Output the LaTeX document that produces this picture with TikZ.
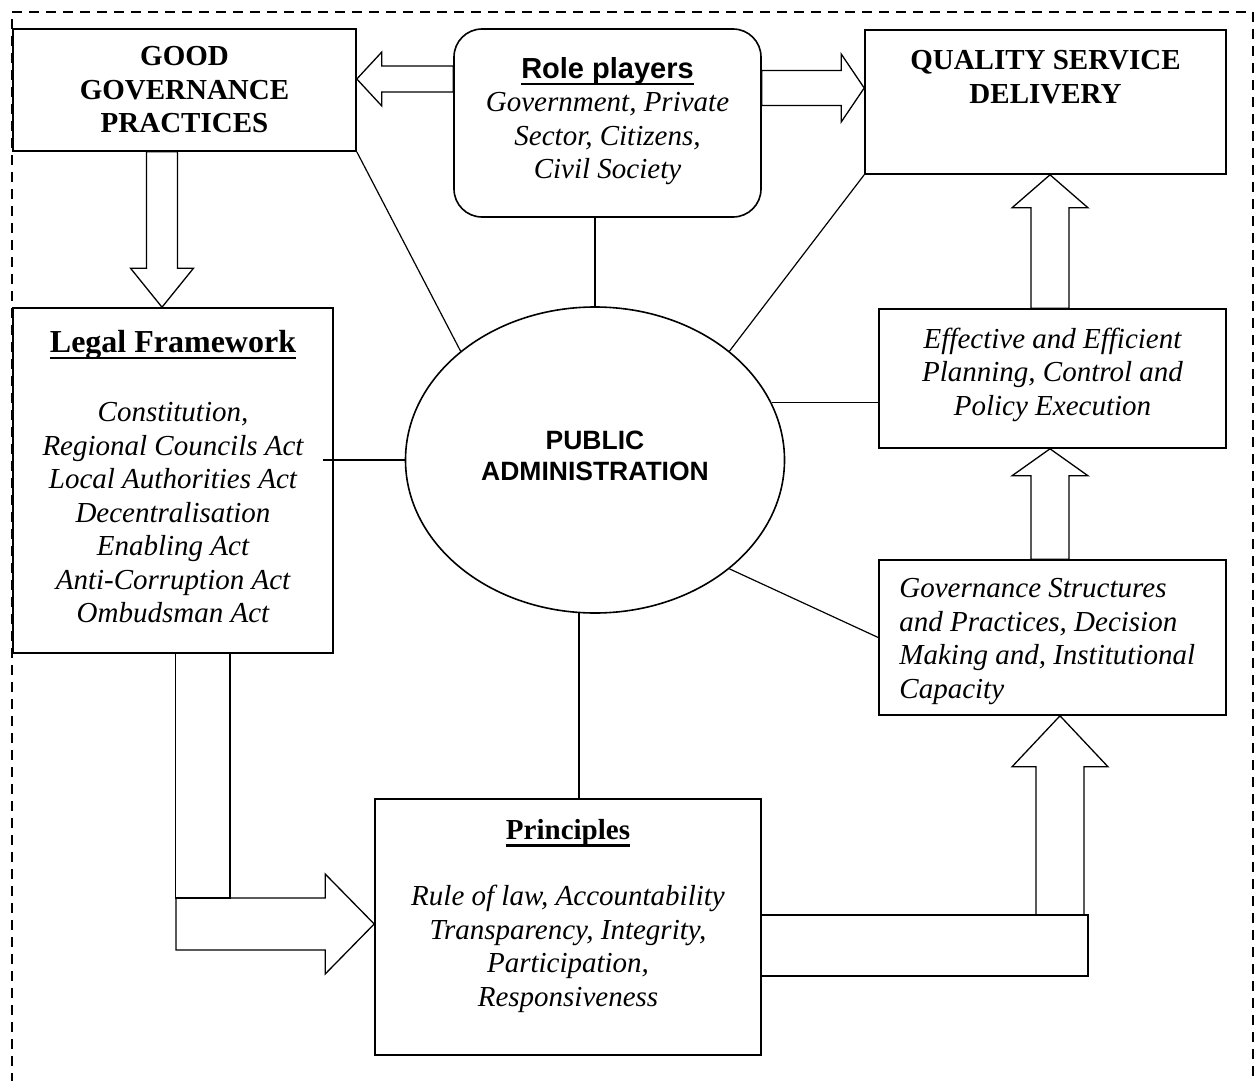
\documentclass[tikz,border=0pt]{standalone}
\usepackage{fontspec}
\setmainfont{Liberation Serif}
\setsansfont{Liberation Sans}
\usetikzlibrary{positioning,calc,shapes.geometric}

\newcommand{\ulhead}[1]{\setbox0\hbox{#1}\rlap{\rule[-0.25em]{\wd0}{0.08em}}\box0}

\tikzset{
  box/.style={draw, rectangle, line width=1.6pt, inner sep=0pt},
  txt/.style={align=center, inner sep=0pt, font=\fontsize{29}{33.5}\selectfont\itshape},
  bold/.style={align=center, inner sep=0pt, font=\fontsize{29}{33.5}\selectfont\bfseries},
  link/.style={line width=1.2pt},
  outerframe/.style={line width=2pt, dash pattern=on 10pt off 7pt},
  shaftw/.store in=\shaftw, headw/.store in=\headw, headl/.store in=\headl,
  fat/.style={draw, line width=1.3pt, line join=miter, to path={
      ($(\tikztostart)!\shaftw!90:(\tikztotarget)$)
   -- ($($(\tikztotarget)!\headl!(\tikztostart)$)!\shaftw!90:(\tikztotarget)$)
   -- ($($(\tikztotarget)!\headl!(\tikztostart)$)!\headw!90:(\tikztotarget)$)
   -- (\tikztotarget)
   -- ($($(\tikztotarget)!\headl!(\tikztostart)$)!\headw!-90:(\tikztotarget)$)
   -- ($($(\tikztotarget)!\headl!(\tikztostart)$)!\shaftw!-90:(\tikztotarget)$)
   -- ($(\tikztostart)!\shaftw!-90:(\tikztotarget)$) -- cycle}},
  fatbox/.style={draw, line width=1.3pt}
}

\begin{document}
\begin{tikzpicture}[x=1pt,y=-1pt,on grid]
\useasboundingbox (0,0) rectangle (1255,1081);
\draw[outerframe] (12,1100) -- (12,12) -- (1253,12) -- (1253,1100);

\node[ellipse, draw, line width=1.6pt, minimum width=379pt, minimum height=306pt] (pa) at (595,460) {};
\node[align=center, inner sep=0pt, font=\fontsize{26.5}{31}\selectfont\sffamily\bfseries] (pa-t)
  at ([yshift=4pt]pa) {PUBLIC\\ADMINISTRATION};

\node[box, minimum width=343pt, minimum height=122pt] (ggp) at (184.5,90) {};
\node[box, rounded corners=28pt, minimum width=307pt, minimum height=188pt] (role) at (607.5,123) {};
\node[box, minimum width=361pt, minimum height=144pt] (qsd) at (1045.5,102) {};
\node[box, minimum width=320pt, minimum height=345pt] (legal) at (173,480.5) {};
\node[box, minimum width=347pt, minimum height=139pt] (eff) at (1052.5,378.5) {};
\node[box, minimum width=347pt, minimum height=155pt] (gov) [below=259pt of eff] {};
\node[box, minimum width=386pt, minimum height=256pt] (prin) at (568,927) {};

\node[bold] (ggp-t) at (ggp) {GOOD\\GOVERNANCE\\PRACTICES};
\node[txt] (role-t) at ([yshift=2pt]role) {\ulhead{\upshape\sffamily\bfseries Role players}\\
  Government, Private\\Sector, Citizens,\\Civil Society};
\node[bold] (qsd-t) at ([yshift=25pt]qsd) {QUALITY SERVICE\\DELIVERY};
\node[txt] (legal-t) at ([yshift=4pt]legal) {\ulhead{\upshape\bfseries\fontsize{32}{33.5}\selectfont Legal Framework}\\[36pt]
  Constitution,\\Regional Councils Act\\Local Authorities Act\\Decentralisation\\Enabling Act\\Anti-Corruption Act\\Ombudsman Act};
\node[txt] (eff-t) at ([yshift=4pt]eff) {Effective and Efficient\\Planning, Control and\\Policy Execution};
\node[txt, align=left, anchor=west] (gov-t) at ([xshift=21pt,yshift=-4pt]gov.west) {Governance Structures\\
  and Practices, Decision\\Making and, Institutional\\Capacity};
\node[txt] (prin-t) at ([yshift=11pt]prin) {\ulhead{\upshape\bfseries Principles}\\[33pt]
  Rule of law, Accountability\\Transparency, Integrity,\\Participation,\\Responsiveness};

\draw[link] (ggp.south east) -- (pa.141);
\draw[link] (pa.north) -- (pa.north |- role.south);
\draw[link] (qsd.south west) -- (pa.39);
\draw[link] ([xshift=-11pt]legal.east |- pa.west) -- (pa.west);
\draw[link] (pa.18) -- (pa.18 -| eff.west);
\draw[link] (pa.321) -- (gov.west);
\draw[link] (pa.264) -- (pa.264 |- prin.north);

\draw[fat, shaftw=13pt, headw=27pt, headl=25pt] ([yshift=44pt]role.west) to ([yshift=11pt]ggp.east);
\draw[fat, shaftw=17.5pt, headw=34pt, headl=23pt] ([yshift=35pt]role.east) to ([yshift=14pt]qsd.west);
\draw[fat, shaftw=15.5pt, headw=31.5pt, headl=39pt] ([xshift=-22.5pt]ggp.south) to ([xshift=-11pt]legal.north);
\draw[fat, shaftw=19pt, headw=38pt, headl=33pt] ([xshift=-2.5pt]eff.north) to ([xshift=4.5pt]qsd.south);
\draw[fat, shaftw=19pt, headw=38pt, headl=27pt] ([xshift=-2.5pt]gov.north) to ([xshift=-2.5pt]eff.south);

\coordinate (lbend) at (176,924);
\draw[fatbox] ([xshift=163pt]legal.south west) rectangle ([xshift=54pt,yshift=26pt]lbend);
\draw[fat, shaftw=26pt, headw=50pt, headl=49pt] (lbend) to (lbend -| prin.west);

\coordinate (rbend) at (1060,915);
\draw[fatbox] ([yshift=12pt]prin.east) rectangle ([xshift=28pt,yshift=-61pt]rbend);
\draw[fat, shaftw=24pt, headw=48pt, headl=51pt] (rbend) to (rbend |- gov.south);
\end{tikzpicture}
\end{document}
